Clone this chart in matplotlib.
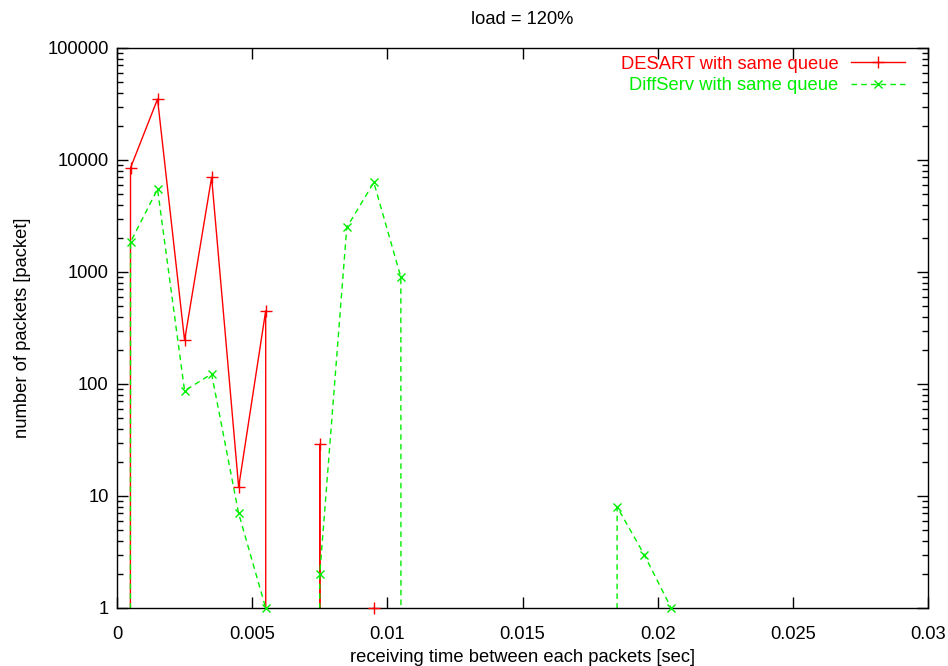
import matplotlib
matplotlib.use("Agg")
import matplotlib.pyplot as plt
import numpy as np
from matplotlib.ticker import FixedLocator, LogLocator, NullFormatter
from matplotlib.lines import Line2D

plt.rcParams['font.family'] = ['Liberation Sans', 'DejaVu Sans']

x_vals = [-0.0005, 0.0005, 0.0015, 0.0025, 0.0035, 0.0045, 0.0055, 0.0065, 0.0075,
          0.0085, 0.0095, 0.0105, 0.0115, 0.0125, 0.0135, 0.0145, 0.0155,
          0.0165, 0.0175, 0.0185, 0.0195, 0.0205, 0.0215]
desart = [0, 8500, 35000, 245, 7000, 12, 450, 0, 29,
          0, 1, 0, 0, 0, 0, 0, 0,
          0, 0, 0, 0, 0, 0]
diffserv = [0, 1850, 5500, 87, 123, 7, 1, 0, 2,
            2500, 6300, 900, 0, 0, 0, 0, 0,
            0, 0, 8, 3, 1, 0]

xticks = [0, 0.005, 0.01, 0.015, 0.02, 0.025, 0.03]
xtick_labels = ['0', '0.005', '0.01', '0.015', '0.02', '0.025', '0.03']
yticks = [1, 10, 100, 1000, 10000, 100000]
ytick_labels = ['1', '10', '100', '1000', '10000', '100000']

FS = 13.2
RED = '#ff0000'
GREEN = '#00ee00'
DASH = (0, (4, 3))

fig = plt.figure(figsize=(9.48, 6.66), dpi=100)
ax = fig.add_axes([117/948, 1-608/666, (928-117)/948, (608-48)/666])
ax.set_yscale('log', nonpositive='clip')

# lines (clipped to the axes)
ax.plot(x_vals, desart, color=RED, lw=1.0)
ax.plot(x_vals, diffserv, color=GREEN, lw=1.0, ls=DASH)

# markers only for positive values, not clipped (so markers on the bottom axis are whole)
xd = [x for x, v in zip(x_vals, desart) if v > 0]
vd = [v for v in desart if v > 0]
xg = [x for x, v in zip(x_vals, diffserv) if v > 0]
vg = [v for v in diffserv if v > 0]
ax.plot(xd, vd, ls='none', color=RED, marker='+', ms=8, mew=1.0, clip_on=False, zorder=5)
ax.plot(xg, vg, ls='none', color=GREEN, marker='x', ms=6, mew=1.0, clip_on=False, zorder=5)

ax.set_xlim(0, 0.03)
ax.set_ylim(1, 100000)
ax.set_xticks(xticks)
ax.set_xticklabels(xtick_labels)
ax.yaxis.set_major_locator(FixedLocator(yticks))
ax.set_yticklabels(ytick_labels)
ax.yaxis.set_minor_locator(LogLocator(base=10, subs=np.arange(2, 10)))
ax.yaxis.set_minor_formatter(NullFormatter())

ax.tick_params(which='both', direction='in', top=True, right=True, labelsize=FS, width=1.0)
ax.tick_params(which='major', length=8)
ax.tick_params(which='minor', length=4)
ax.tick_params(axis='x', which='major', pad=13)
ax.tick_params(axis='y', which='major', pad=6)
for s in ax.spines.values():
    s.set_linewidth(1.0)

ax.set_title('load = 120%', fontsize=FS, pad=17)
ax.set_xlabel('receiving time between each packets [sec]', fontsize=FS, labelpad=4)
ax.set_ylabel('number of packets [packet]', fontsize=FS, labelpad=12)

handles = [Line2D([], [], color=RED, lw=1.0, marker='+', ms=8, mew=1.0),
           Line2D([], [], color=GREEN, lw=1.0, ls=DASH, marker='x', ms=6, mew=1.0)]
labels = ['DESART with same queue', 'DiffServ with same queue']
ax.legend(handles, labels, loc='upper right', frameon=False, markerfirst=False,
          labelcolor=[RED, GREEN], fontsize=FS, handlelength=2.95, handletextpad=0.7,
          borderaxespad=0.3, labelspacing=0.25, bbox_to_anchor=(0.9877, 1.009))

fig.savefig('out.png', dpi=100)
